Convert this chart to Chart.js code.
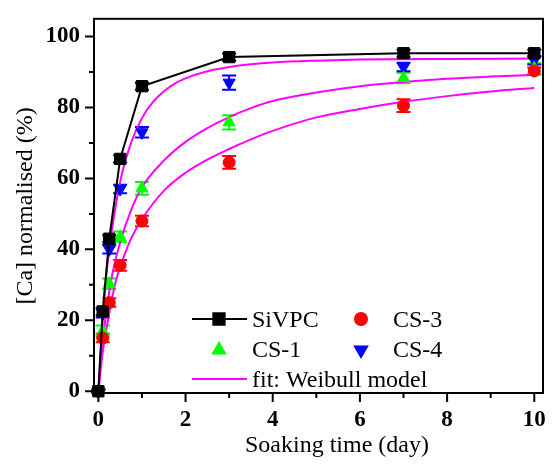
<!DOCTYPE html>
<html>
<head>
<meta charset="utf-8">
<script src="https://cdn.jsdelivr.net/npm/chart.js@4"></script>
<style>
  html, body { margin: 0; padding: 0; background: #fff; }
  #wrap { width: 552px; height: 466px; position: relative; }
</style>
</head>
<body>
<div id="wrap"><canvas id="grafico"></canvas></div>
<script>
// tiempos de muestreo (dias)
const tiempos = [0, 0.1, 0.25, 0.5, 1, 3, 7, 10];

const sivpc = [0, 22.5, 43, 65.5, 86, 94.2, 95.3, 95.3];
const cs1   = [0, 17, 30.3, 43.5, 57.2, 75.8, 88.3, 91];
const cs3   = [0, 15, 25, 35.5, 48, 64.5, 80.5, 90.3];
const cs4   = [0, 22, 40, 57, 73, 87, 91.4, 93.3];

const errSivpc = [0.5, 1, 1, 1, 1, 1, 1, 1];
const errCs1   = [0.5, 1.5, 1.5, 1.5, 1.8, 2, 1.5, 1.5];
const errCs3   = [0.5, 1.2, 1.2, 1.5, 1.5, 1.8, 1.8, 1];
const errCs4   = [0.5, 1.2, 1.2, 1.2, 1.5, 2, 1.2, 1.2];

// curvas de ajuste
const ajusteCs4X = [0, 0.1, 0.17, 0.25, 0.5, 0.75, 1, 1.25, 1.5, 1.75, 2, 2.5, 3, 3.5, 4, 5, 6, 8, 10];
const ajusteCs4Y = [0, 20, 31, 40, 59, 70, 77, 81.5, 84.5, 86.7, 88.2, 90.2, 91.4, 92.2, 92.7, 93.2, 93.5, 93.7, 93.8];
const ajusteCs1X = [0, 0.1, 0.29, 0.5, 0.75, 1, 1.5, 2, 2.5, 3, 3.5, 4, 5, 6, 7, 8, 9, 10];
const ajusteCs1Y = [0, 14, 31, 42, 51, 57.5, 65, 70.3, 74.2, 77.3, 79.8, 81.8, 84.2, 86, 87.2, 88.1, 88.7, 89.2];
const ajusteCs3X = [0, 0.1, 0.25, 0.4, 0.5, 0.75, 1, 1.5, 2, 2.5, 3, 3.5, 4, 5, 6, 7, 8, 9, 10];
const ajusteCs3Y = [0, 11, 22, 31, 35, 43, 48.5, 56.5, 61.6, 65.3, 68.3, 71, 73.4, 77.2, 79.6, 81.6, 83.2, 84.5, 85.5];

const FUENTE = "'Liberation Serif', 'Times New Roman', serif";

function puntos(xs, ys) {
    return xs.map((x, i) => ({x: x, y: ys[i]}));
}

function serieMarcas(etiqueta, ys, errores, color, estilo, radio, rotacion, conLinea) {
    return {
        label: etiqueta,
        data: puntos(tiempos, ys),
        errores: errores,
        showLine: conLinea,
        borderColor: color,
        backgroundColor: color,
        borderWidth: 2,
        pointStyle: estilo,
        pointRadius: radio,
        pointRotation: rotacion,
        pointBorderWidth: 1,
        pointBackgroundColor: color,
        pointBorderColor: color,
        clip: false
    };
}

function serieAjuste(xs, ys) {
    return {
        label: 'fit',
        data: puntos(xs, ys),
        showLine: true,
        borderColor: '#ff00ff',
        borderWidth: 2,
        pointRadius: 0,
        cubicInterpolationMode: 'monotone',
        clip: false
    };
}

// barras de error con tapas
const barrasError = {
    id: 'barrasError',
    beforeDatasetsDraw(chart) {
        const ctx = chart.ctx;
        const y = chart.scales.y;
        chart.data.datasets.forEach((ds, i) => {
            if (!ds.errores) return;
            const meta = chart.getDatasetMeta(i);
            ctx.save();
            ctx.strokeStyle = ds.borderColor;
            ctx.lineWidth = 2;
            meta.data.forEach((p, j) => {
                const v = ds.data[j].y;
                const arriba = y.getPixelForValue(v + ds.errores[j]);
                const abajo = y.getPixelForValue(v - ds.errores[j]);
                ctx.beginPath();
                ctx.moveTo(p.x, arriba); ctx.lineTo(p.x, abajo);
                ctx.moveTo(p.x - 7, arriba); ctx.lineTo(p.x + 7, arriba);
                ctx.moveTo(p.x - 7, abajo); ctx.lineTo(p.x + 7, abajo);
                ctx.stroke();
            });
            ctx.restore();
        });
    }
};

// marco, ticks mayores/menores, titulo x y leyenda
const decoracion = {
    id: 'decoracion',
    afterDraw(chart) {
        const ctx = chart.ctx;
        const a = chart.chartArea;
        const sx = chart.scales.x;
        const sy = chart.scales.y;
        ctx.save();
        ctx.strokeStyle = '#000';
        ctx.lineWidth = 2;
        ctx.strokeRect(a.left, a.top, a.right - a.left, a.bottom - a.top);

        ctx.beginPath();
        sx.ticks.forEach(t => {
            const px = sx.getPixelForValue(t.value);
            const largo = (t.value % 2 === 0) ? 9 : 5;
            ctx.moveTo(px, a.bottom); ctx.lineTo(px, a.bottom + largo);
        });
        sy.ticks.forEach(t => {
            const py = sy.getPixelForValue(t.value);
            const largo = (t.value % 20 === 0) ? 9 : 5;
            ctx.moveTo(a.left, py); ctx.lineTo(a.left - largo, py);
        });
        ctx.stroke();

        ctx.fillStyle = '#000';
        ctx.font = '24px ' + FUENTE;
        ctx.textAlign = 'center';
        ctx.textBaseline = 'alphabetic';
        ctx.fillText('Soaking time (day)', 337, 452);

        // leyenda
        const h = Chart.helpers;
        ctx.textAlign = 'left';
        ctx.lineWidth = 2;
        ctx.strokeStyle = '#000';
        ctx.beginPath(); ctx.moveTo(192, 319); ctx.lineTo(247, 319); ctx.stroke();
        ctx.fillStyle = '#000';
        h.drawPoint(ctx, {pointStyle: 'rect', radius: 8, rotation: 0, borderWidth: 1}, 219, 319);
        ctx.fillStyle = '#ff0000'; ctx.strokeStyle = '#ff0000';
        h.drawPoint(ctx, {pointStyle: 'circle', radius: 6, rotation: 0, borderWidth: 1}, 361, 319);
        ctx.fillStyle = '#00ff00'; ctx.strokeStyle = '#00ff00';
        h.drawPoint(ctx, {pointStyle: 'triangle', radius: 7, rotation: 0, borderWidth: 1}, 219, 350);
        ctx.fillStyle = '#0000ff'; ctx.strokeStyle = '#0000ff';
        h.drawPoint(ctx, {pointStyle: 'triangle', radius: 7, rotation: 180, borderWidth: 1}, 361, 350);
        ctx.strokeStyle = '#ff00ff'; ctx.lineWidth = 2;
        ctx.beginPath(); ctx.moveTo(192, 379); ctx.lineTo(247, 379); ctx.stroke();

        ctx.fillStyle = '#000';
        ctx.fillText('SiVPC', 252, 327);
        ctx.fillText('CS-3', 393, 327);
        ctx.fillText('CS-1', 252, 357);
        ctx.fillText('CS-4', 393, 357);
        ctx.fillText('fit: Weibull model', 252, 387);
        ctx.restore();
    }
};

new Chart(document.getElementById('grafico'), {
    type: 'scatter',
    data: {
        datasets: [
            serieMarcas('SiVPC', sivpc, errSivpc, '#000000', 'rect', 8, 0, true),
            serieMarcas('CS-3', cs3, errCs3, '#ff0000', 'circle', 6, 0, false),
            serieMarcas('CS-1', cs1, errCs1, '#00ff00', 'triangle', 7, 0, false),
            serieMarcas('CS-4', cs4, errCs4, '#0000ff', 'triangle', 7, 180, false),
            serieAjuste(ajusteCs4X, ajusteCs4Y),
            serieAjuste(ajusteCs1X, ajusteCs1Y),
            serieAjuste(ajusteCs3X, ajusteCs3Y)
        ]
    },
    options: {
        responsive: true,
        maintainAspectRatio: false,
        animation: false,
        layout: { padding: { top: 11, right: 2, left: 0, bottom: 0 } },
        plugins: { legend: { display: false }, tooltip: { enabled: false } },
        scales: {
            x: {
                type: 'linear',
                min: -0.1,
                max: 10.2,
                afterFit: s => { s.height = 73; },
                grid: { drawOnChartArea: false, drawTicks: true, tickLength: 9, tickColor: 'rgba(0,0,0,0)' },
                border: { display: false },
                ticks: {
                    stepSize: 1,
                    includeBounds: false,
                    autoSkip: false,
                    maxRotation: 0,
                    padding: 4,
                    color: '#000',
                    font: { family: FUENTE, size: 23, weight: 'bold' },
                    callback: v => (v % 2 === 0 ? v : '')
                }
            },
            y: {
                min: -0.5,
                max: 105,
                afterFit: s => { s.width = 94; },
                grid: { drawOnChartArea: false, drawTicks: true, tickLength: 9, tickColor: 'rgba(0,0,0,0)' },
                border: { display: false },
                title: {
                    display: true,
                    text: '[Ca] normalised (%)',
                    color: '#000',
                    font: { family: FUENTE, size: 24 },
                    padding: { top: 11, bottom: 0 }
                },
                ticks: {
                    stepSize: 10,
                    includeBounds: false,
                    autoSkip: false,
                    padding: 5,
                    color: '#000',
                    font: { family: FUENTE, size: 23, weight: 'bold' },
                    callback: v => (v % 20 === 0 ? v : '')
                }
            }
        }
    },
    plugins: [barrasError, decoracion]
});
</script>
</body>
</html>
